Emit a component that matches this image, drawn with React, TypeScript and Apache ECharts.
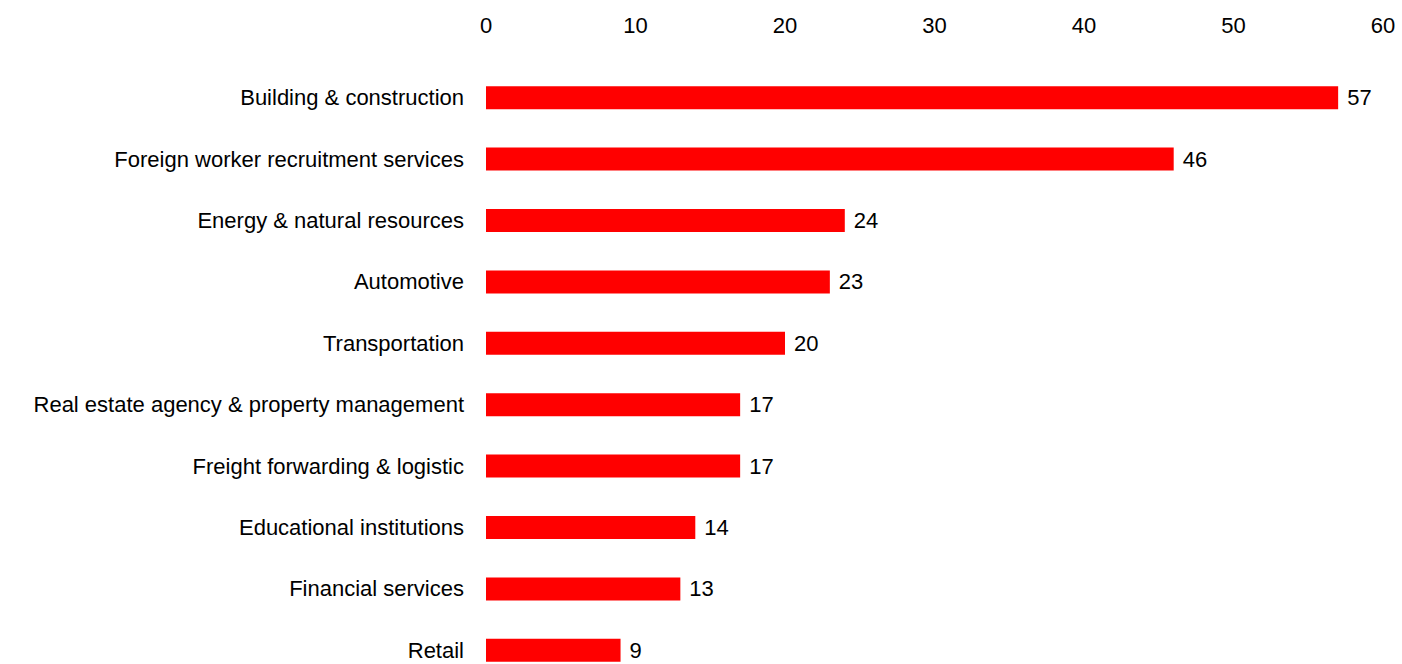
import React, { useEffect, useRef } from "react";
import * as echarts from "echarts";

const categories = [
  "Building & construction",
  "Foreign worker recruitment services",
  "Energy & natural resources",
  "Automotive",
  "Transportation",
  "Real estate agency & property management",
  "Freight forwarding & logistic",
  "Educational institutions",
  "Financial services",
  "Retail",
];
const values = [57, 46, 24, 23, 20, 17, 17, 14, 13, 9];
const xTicks = { min: 0, max: 60, interval: 10 };

export default function App() {
  const ref = useRef<HTMLDivElement>(null);
  useEffect(() => {
    if (!ref.current) return;
    const chart = echarts.init(ref.current, null, { renderer: "svg" });
    const font = "'Liberation Sans', Arial, sans-serif";
    chart.setOption({
      animation: false,
      grid: { left: 486, top: 67, width: 897, height: 614, outerBoundsMode: "none", containLabel: false },
      xAxis: {
        type: "value",
        position: "top",
        min: xTicks.min,
        max: xTicks.max,
        interval: xTicks.interval,
        axisLine: { show: false },
        axisTick: { show: false },
        splitLine: { show: false },
        axisLabel: { fontSize: 22, color: "#000", fontFamily: font, margin: 31 },
      },
      yAxis: {
        type: "category",
        data: categories,
        inverse: true,
        axisLine: { show: false },
        axisTick: { show: false },
        axisLabel: { fontSize: 22, color: "#000", fontFamily: font, margin: 22 },
      },
      series: [
        {
          type: "bar",
          data: values,
          barWidth: 23,
          itemStyle: { color: "#ff0000" },
          label: {
            show: true,
            position: "right",
            distance: 9,
            fontSize: 22,
            color: "#000",
            fontFamily: font,
          },
        },
      ],
    });
    return () => chart.dispose();
  }, []);
  return (
    <div
      ref={ref}
      style={{ position: "fixed", left: 0, top: 0, width: 1402, height: 664, background: "#fff" }}
    />
  );
}
